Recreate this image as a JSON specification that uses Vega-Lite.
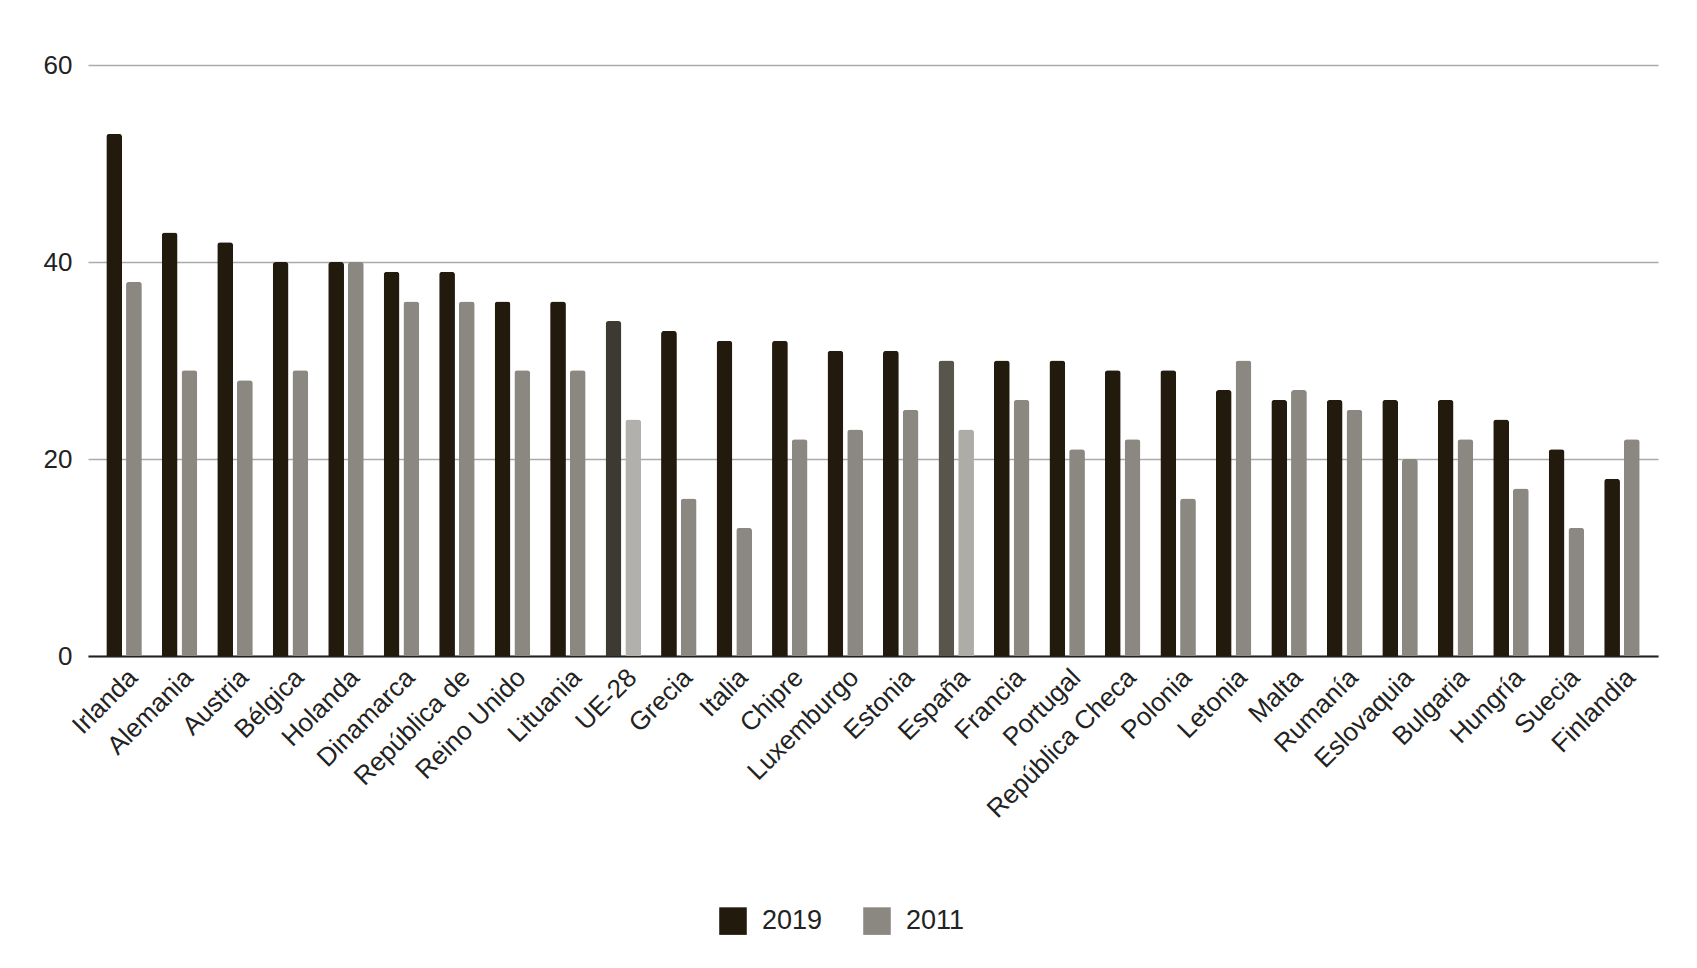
{
  "$schema": "https://vega.github.io/schema/vega-lite/v6.json",
  "autosize": "none",
  "width": 1570,
  "height": 591,
  "padding": {"left": 88, "top": 65, "right": 39, "bottom": 312},
  "background": "white",
  "config": {
    "view": {"stroke": null},
    "font": "Liberation Sans",
    "axis": {"labelFont": "Liberation Sans", "labelColor": "#222222"},
    "legend": {"labelFont": "Liberation Sans"}
  },
  "data": {
    "values": [
      {"pais": "Irlanda", "anio": "2019", "valor": 53},
      {"pais": "Irlanda", "anio": "2011", "valor": 38},
      {"pais": "Alemania", "anio": "2019", "valor": 43},
      {"pais": "Alemania", "anio": "2011", "valor": 29},
      {"pais": "Austria", "anio": "2019", "valor": 42},
      {"pais": "Austria", "anio": "2011", "valor": 28},
      {"pais": "Bélgica", "anio": "2019", "valor": 40},
      {"pais": "Bélgica", "anio": "2011", "valor": 29},
      {"pais": "Holanda", "anio": "2019", "valor": 40},
      {"pais": "Holanda", "anio": "2011", "valor": 40},
      {"pais": "Dinamarca", "anio": "2019", "valor": 39},
      {"pais": "Dinamarca", "anio": "2011", "valor": 36},
      {"pais": "República de", "anio": "2019", "valor": 39},
      {"pais": "República de", "anio": "2011", "valor": 36},
      {"pais": "Reino Unido", "anio": "2019", "valor": 36},
      {"pais": "Reino Unido", "anio": "2011", "valor": 29},
      {"pais": "Lituania", "anio": "2019", "valor": 36},
      {"pais": "Lituania", "anio": "2011", "valor": 29},
      {"pais": "UE-28", "anio": "2019", "valor": 34},
      {"pais": "UE-28", "anio": "2011", "valor": 24},
      {"pais": "Grecia", "anio": "2019", "valor": 33},
      {"pais": "Grecia", "anio": "2011", "valor": 16},
      {"pais": "Italia", "anio": "2019", "valor": 32},
      {"pais": "Italia", "anio": "2011", "valor": 13},
      {"pais": "Chipre", "anio": "2019", "valor": 32},
      {"pais": "Chipre", "anio": "2011", "valor": 22},
      {"pais": "Luxemburgo", "anio": "2019", "valor": 31},
      {"pais": "Luxemburgo", "anio": "2011", "valor": 23},
      {"pais": "Estonia", "anio": "2019", "valor": 31},
      {"pais": "Estonia", "anio": "2011", "valor": 25},
      {"pais": "España", "anio": "2019", "valor": 30},
      {"pais": "España", "anio": "2011", "valor": 23},
      {"pais": "Francia", "anio": "2019", "valor": 30},
      {"pais": "Francia", "anio": "2011", "valor": 26},
      {"pais": "Portugal", "anio": "2019", "valor": 30},
      {"pais": "Portugal", "anio": "2011", "valor": 21},
      {"pais": "República Checa", "anio": "2019", "valor": 29},
      {"pais": "República Checa", "anio": "2011", "valor": 22},
      {"pais": "Polonia", "anio": "2019", "valor": 29},
      {"pais": "Polonia", "anio": "2011", "valor": 16},
      {"pais": "Letonia", "anio": "2019", "valor": 27},
      {"pais": "Letonia", "anio": "2011", "valor": 30},
      {"pais": "Malta", "anio": "2019", "valor": 26},
      {"pais": "Malta", "anio": "2011", "valor": 27},
      {"pais": "Rumanía", "anio": "2019", "valor": 26},
      {"pais": "Rumanía", "anio": "2011", "valor": 25},
      {"pais": "Eslovaquia", "anio": "2019", "valor": 26},
      {"pais": "Eslovaquia", "anio": "2011", "valor": 20},
      {"pais": "Bulgaria", "anio": "2019", "valor": 26},
      {"pais": "Bulgaria", "anio": "2011", "valor": 22},
      {"pais": "Hungría", "anio": "2019", "valor": 24},
      {"pais": "Hungría", "anio": "2011", "valor": 17},
      {"pais": "Suecia", "anio": "2019", "valor": 21},
      {"pais": "Suecia", "anio": "2011", "valor": 13},
      {"pais": "Finlandia", "anio": "2019", "valor": 18},
      {"pais": "Finlandia", "anio": "2011", "valor": 22}
    ]
  },
  "mark": {"type": "bar", "cornerRadiusEnd": 3},
  "encoding": {
    "x": {
      "field": "pais",
      "type": "nominal",
      "sort": null,
      "title": null,
      "scale": {"paddingInner": 0.36, "paddingOuter": 0.33},
      "axis": {
        "labelAngle": -45,
        "labelAlign": "right",
        "labelBaseline": "top",
        "labelFontSize": 26,
        "labelPadding": 8,
        "ticks": false,
        "domainColor": "#222222",
        "domainWidth": 2,
        "labelOverlap": false,
        "labelLimit": 0
      }
    },
    "xOffset": {
      "field": "anio",
      "type": "nominal",
      "sort": ["2019", "2011"],
      "scale": {"paddingInner": 0.2}
    },
    "y": {
      "field": "valor",
      "type": "quantitative",
      "title": null,
      "scale": {"domain": [0, 60]},
      "axis": {
        "values": [0, 20, 40, 60],
        "domain": false,
        "ticks": false,
        "labelFontSize": 26,
        "labelPadding": 16,
        "gridColor": "#aaaaaa",
        "gridWidth": 1.5
      }
    },
    "color": {
      "field": "anio",
      "type": "nominal",
      "title": null,
      "sort": ["2019", "2011"],
      "scale": {"domain": ["2019", "2011"], "range": ["#231a0e", "#8a8880"]},
      "condition": [
        {"test": "datum.pais === 'UE-28' && datum.anio === '2019'", "value": "#3d3a33"},
        {"test": "datum.pais === 'UE-28' && datum.anio === '2011'", "value": "#b1b0ac"},
        {"test": "datum.pais === 'España' && datum.anio === '2019'", "value": "#58554c"},
        {"test": "datum.pais === 'España' && datum.anio === '2011'", "value": "#adaca7"}
      ],
      "legend": {
        "orient": "none",
        "direction": "horizontal",
        "legendX": 631,
        "legendY": 842,
        "symbolType": "square",
        "symbolSize": 760,
        "symbolStrokeWidth": 0,
        "labelFontSize": 27,
        "labelColor": "#222222",
        "labelOffset": 15,
        "columnPadding": 40
      }
    }
  }
}
